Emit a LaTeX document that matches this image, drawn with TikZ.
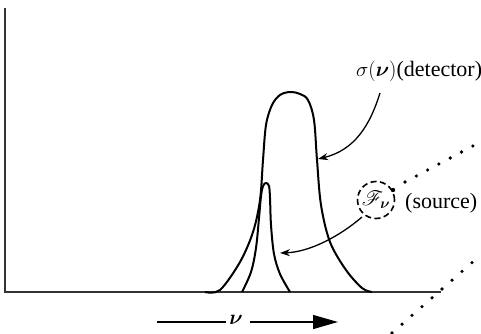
\documentclass[tikz,border=0pt]{standalone}
\usepackage{fontspec}
\setmainfont{Liberation Serif}
\usepackage{mathrsfs}
\usepackage{bm}
\usetikzlibrary{arrows.meta}
\begin{document}
\begin{tikzpicture}[x=1pt,y=-1pt,
  axis/.style={line width=1.4pt,draw=black!80},
  curve/.style={line width=2pt,line join=round},
  pointer/.style={line width=1.3pt,-{Stealth[length=10pt,width=7pt]}},
  lbl/.style={inner sep=0pt,font=\fontsize{22}{24}\selectfont}]
\useasboundingbox (0,0) rectangle (481,334);
% axes
\coordinate (top) at (5,8);
\coordinate (origin) at (5,292);
\coordinate (xend) at (441,292);
\draw[axis] (top) -- (origin) -- (xend);
% broad detector curve
\draw[curve] plot[smooth,tension=0.55] coordinates {
 (205,292) (220,290) (240,262) (253,232) (260,200) (263,160) (266,125) (272,105) (280,95) (290,92)
 (300,94) (308,100) (314,120) (317,160) (321,205) (330,242) (346,270) (362,288) (372,292)};
% narrow source curve
\draw[curve] plot[smooth,tension=0.55] coordinates {
 (242,292) (251,272) (256,248) (259,218) (261,196) (263,186) (266,183)
 (269,186) (270,198) (271,225) (274,254) (280,274) (290,292)};
% labels
\node[lbl,anchor=base west] (det) at (356,77) {$\sigma(\bm{\nu})$(detector)};
\node[draw,circle,dash pattern=on 6pt off 3.5pt,line width=1.6pt,minimum size=37pt,inner sep=0pt,
  font=\fontsize{20}{22}\selectfont] (src) at (376,200) {$\mathscr{F}_{\bm{\nu}}$};
\node[lbl,anchor=base west] (srclbl) at (405,208) {(source)};
% pointers
\coordinate (detstart) at (380,93);
\coordinate (dettip) at (318,159);
\draw[pointer] (detstart) .. controls (370,125) and (355,150) .. (dettip);
\coordinate (srcstart) at (362,217);
\coordinate (srctip) at (280,253);
\draw[pointer] (srcstart) .. controls (340,236) and (310,252) .. (srctip);
% dotted lines
\coordinate (cdot) at (393,190);
\fill (cdot) circle (2.2pt);
\foreach \i in {0,...,6} {
  \fill ({405+11.3*\i},{182-6*\i}) circle (1.8pt);
}
\foreach \i in {0,...,8} {
  \fill ({392+10*\i},{333-8.8*\i}) circle (1.8pt);
}
% nu arrow
\coordinate (a1) at (157,322);
\coordinate (a2) at (226,322);
\node[lbl] (nu) at (236,320) {$\bm{\nu}$};
\coordinate (a3) at (250,322);
\coordinate (a4) at (338,322);
\draw[line width=1.3pt] (a1) -- (a2);
\draw[line width=1.3pt,-{Triangle[length=25pt,width=14pt]}] (a3) -- (a4);
\end{tikzpicture}
\end{document}
